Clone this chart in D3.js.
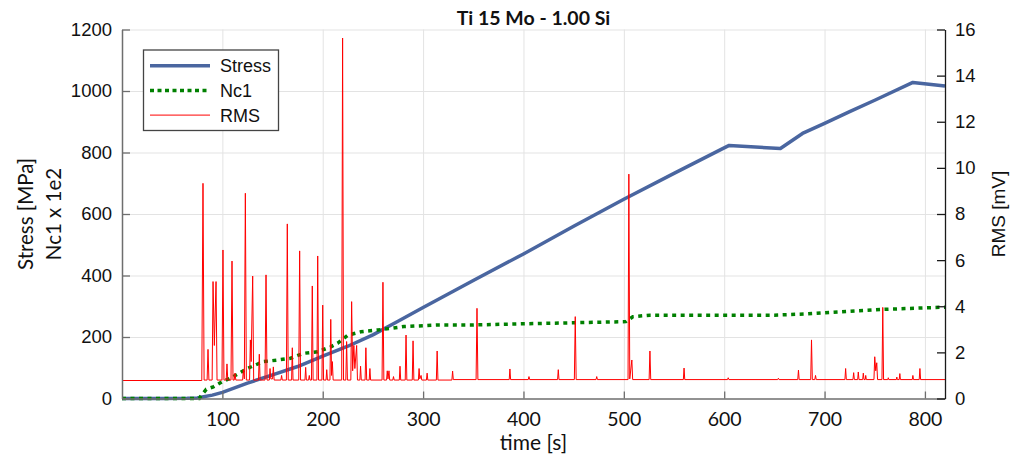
<!DOCTYPE html>
<html>
<head>
<meta charset="utf-8">
<script src="https://cdn.jsdelivr.net/npm/d3@7"></script>
<style>
    body { margin: 0; background: #fff; }
    .tickL, .tickR, .legend text { font-family: "Liberation Sans", Arial, sans-serif; fill: #111; }
    .cal { font-family: Lato, "Open Sans", sans-serif; fill: #111; }
</style>
</head>
<body>
<div id="chart"></div>
<script>
'use strict';

// time [s] / value pairs
var stress = [[0,0],[40,0],[65,0.5],[75,2],[80,5],[90,11],[100,20],[125,50],[150,77],[175,104],
    [200,138],[225,170],[250,207],[275,251],[300,296],[325,340],[350,384],[400,470],[450,560],
    [500,648],[550,732],[597,810],[605,823],[656,813],[678,862],[700,895],[725,933],[750,970],
    [788,1028],[820,1016]];

// Nc1 in units of 1e2
var nc1 = [[0,0],[77,0],[79,10],[84,30],[91,38],[100,55],[108,66],[125,98],[141,120],[155,125],
    [168,131],[181,147],[195,152],[208,168],[215,180],[225,206],[238,217],[255,223],[268,228],
    [281,234],[315,239],[348,239],[400,243],[460,247],[502,250],[509,266],[526,271],[600,271],
    [650,271],[682,275],[749,288],[760,290],[820,297]];

// RMS [mV]
var rms = [[0,0.78],[79.5,0.78],[80.7,9.33],[81.8,0.8],[84.8,0.8],[85.7,2.13],[86.6,0.8],[89.8,0.8],
    [90.7,5.07],[92,2.3],[93.7,5.07],[94.7,0.8],[99.6,0.8],[100.6,6.44],[101.6,0.8],[103.8,0.8],
    [104.6,1.5],[105.4,0.8],[108.6,0.8],[109.6,5.96],[110.6,0.8],[111.8,0.8],[112.6,1.1],[113.4,0.8],
    [120.2,0.8],[120.9,1.25],[121.9,0.85],[122.9,8.9],[123.9,0.8],[127.1,0.8],[127.9,2.54],[128.7,1.6],
    [130.2,5.31],[131.2,0.8],[136,0.8],[136.8,1.92],[137.6,0.8],[142.5,0.8],[143.5,5.36],[144.5,0.8],
    [146.8,0.8],[147.5,1.3],[148.3,0.85],[150,0.85],[150.8,1.37],[151.6,0.8],[158.3,0.8],[159,1.0],
    [159.7,0.8],[163.8,0.8],[164.7,7.57],[165.6,0.8],[169,0.8],[169.7,2.2],[170.4,0.8],[176.1,0.8],
    [177,6.4],[177.9,0.8],[182.3,0.8],[183,1.35],[183.7,0.8],[185.9,0.8],[186.6,1.0],[187.3,0.8],
    [188.8,0.8],[189.6,4.88],[190.4,0.8],[194.2,0.8],[195,6.18],[195.8,0.8],[199.2,0.8],[200,4.05],
    [200.8,0.8],[203.3,0.8],[204,1.25],[204.7,0.8],[207.2,0.8],[208,3.43],[208.8,1.0],[209.6,1.6],
    [210.4,0.8],[218.9,0.8],[219.8,15.63],[220.7,0.8],[223,0.8],[223.8,2.47],[224.6,0.8],[228,0.8],
    [228.8,4.2],[229.8,1.2],[231,2.3],[232,1.3],[233.8,2.3],[234.6,0.8],[237,0.8],[237.7,1.4],
    [238.4,0.8],[242.2,0.8],[243,2.2],[243.8,0.8],[246.3,0.8],[247,1.3],[247.7,0.8],[259.1,0.8],
    [260,5.04],[260.9,0.8],[263.6,0.8],[264.3,1.2],[265,0.85],[266,1.2],[266.7,0.8],[269.8,0.8],
    [270.5,0.95],[271.2,0.8],[276.3,0.8],[277,1.4],[277.7,0.8],[282.2,0.8],[283,2.75],[283.8,0.8],
    [289.2,0.8],[290,2.5],[290.8,0.8],[295.3,0.8],[296,1.3],[296.7,0.85],[298,1.0],[298.7,0.8],
    [303.3,0.8],[304,1.1],[304.7,0.8],[313.2,0.8],[314,2.06],[314.8,0.8],[328.7,0.8],[329.4,1.19],
    [330.1,0.82],[352.8,0.82],[353.7,3.91],[354.6,0.82],[385.8,0.82],[386.5,1.28],[387.2,0.82],
    [404.8,0.82],[405.5,0.95],[406.2,0.82],[434,0.82],[434.7,1.25],[435.4,0.82],[450.7,0.82],
    [451.6,3.55],[452.5,0.82],[472.3,0.82],[473,0.95],[473.7,0.82],[504.2,0.82],[505,9.73],
    [505.9,0.85],[508,1.67],[508.8,0.82],[525.2,0.82],[526,2.06],[526.8,0.82],[559.3,0.82],
    [560,1.32],[560.7,0.82],[603.3,0.82],[604,0.9],[604.7,0.82],[653.3,0.82],[654,0.88],[654.7,0.82],
    [673.3,0.82],[674,1.23],[674.7,0.82],[686.2,0.82],[687,2.54],[687.8,0.82],[690.3,0.82],[691,1.0],
    [691.7,0.82],[720.3,0.82],[721,1.3],[721.7,0.82],[728.3,0.82],[729,1.12],[729.7,0.82],[733,0.82],
    [733.6,1.15],[734.3,0.82],[738,0.82],[738.6,1.1],[739.3,0.82],[740.5,0.82],[741,1.0],[741.6,0.82],
    [749.2,0.82],[750,1.81],[751,1.2],[752,1.55],[752.8,0.82],[757.2,0.82],[758,3.95],[758.8,0.82],
    [763,0.82],[763.5,0.9],[764,0.82],[771.5,0.82],[772,0.93],[772.5,0.82],[774.4,0.82],[775,1.08],
    [775.6,0.82],[787.4,0.82],[788,1.0],[788.6,0.82],[794.3,0.82],[795,1.3],[795.7,0.82],[820,0.82]];

var xTicks = [100, 200, 300, 400, 500, 600, 700, 800];
var leftTicks = [0, 200, 400, 600, 800, 1000, 1200];
var rightTicks = [0, 2, 4, 6, 8, 10, 12, 14, 16];
var seriesNames = ["Stress", "Nc1", "RMS"];

var W = 1014, H = 459,
    pLeft = 122, pRight = 945, pTop = 29.5, pBottom = 398.5;

var svg = d3.select("#chart").append("svg")
    .attr("width", W)
    .attr("height", H);

var x = d3.scaleLinear().domain([0, 820]).range([pLeft, pRight]);
var yL = d3.scaleLinear().domain([0, 1200]).range([pBottom, pTop]);
var yR = d3.scaleLinear().domain([0, 16]).range([pBottom, pTop]);

// grid
svg.append("g")
    .attr("transform", "translate(0," + pBottom + ")")
    .call(d3.axisBottom(x).tickValues(xTicks).tickSize(-(pBottom - pTop)).tickFormat(""))
    .call(function(g) {
        g.select(".domain").remove();
        g.selectAll("line").attr("stroke", "#e3e3e3").attr("stroke-width", 1);
    });
svg.append("g")
    .attr("transform", "translate(" + pLeft + ",0)")
    .call(d3.axisLeft(yL).tickValues(leftTicks.slice(1)).tickSize(-(pRight - pLeft)).tickFormat(""))
    .call(function(g) {
        g.select(".domain").remove();
        g.selectAll("line").attr("stroke", "#e3e3e3").attr("stroke-width", 1);
    });

// lines
var lineL = d3.line()
    .x(function(d) { return x(d[0]); })
    .y(function(d) { return yL(d[1]); });
var lineR = d3.line()
    .x(function(d) { return x(d[0]); })
    .y(function(d) { return yR(d[1]); });

svg.append("path")
    .attr("d", lineL(stress))
    .attr("fill", "none")
    .attr("stroke", "#4a66a0")
    .attr("stroke-width", 3.5)
    .attr("stroke-linejoin", "round");

svg.append("path")
    .attr("d", lineL(nc1))
    .attr("fill", "none")
    .attr("stroke", "#008000")
    .attr("stroke-width", 3.5)
    .attr("stroke-dasharray", "4,4.5");

svg.append("path")
    .attr("d", lineR(rms))
    .attr("fill", "none")
    .attr("stroke", "#ff0000")
    .attr("stroke-width", 1);

// bottom axis
svg.append("g")
    .attr("transform", "translate(0," + pBottom + ")")
    .call(d3.axisBottom(x).tickValues(xTicks).tickSizeInner(-7).tickSizeOuter(0).tickPadding(14))
    .call(function(g) {
        g.attr("font-family", null);
        g.select(".domain").attr("stroke", "#6e6e6e").attr("stroke-width", 1.3);
        g.selectAll("line").attr("stroke", "#6e6e6e").attr("stroke-width", 1.3);
        g.selectAll("text").attr("class", "cal").style("font-size", "19.5px");
    });

// left axis
svg.append("g")
    .attr("transform", "translate(" + pLeft + ",0)")
    .call(d3.axisLeft(yL).tickValues(leftTicks).tickFormat(d3.format("d"))
        .tickSizeInner(-8).tickSizeOuter(0).tickPadding(10))
    .call(function(g) {
        g.attr("font-family", null);
        g.select(".domain").attr("stroke", "#6e6e6e").attr("stroke-width", 1.5);
        g.selectAll("line").attr("stroke", "#6e6e6e").attr("stroke-width", 1.3);
        g.selectAll("text").attr("class", "tickL").style("font-size", "18.5px");
    });

// right axis
svg.append("g")
    .attr("transform", "translate(" + pRight + ",0)")
    .call(d3.axisRight(yR).tickValues(rightTicks).tickSizeInner(-8).tickSizeOuter(0).tickPadding(10))
    .call(function(g) {
        g.attr("font-family", null);
        g.select(".domain").attr("stroke", "#1a1a1a").attr("stroke-width", 1.3);
        g.selectAll("line").attr("stroke", "#1a1a1a").attr("stroke-width", 1.3);
        g.selectAll("text").attr("class", "tickR").style("font-size", "18.5px");
    });

// title and labels
svg.append("text")
    .attr("class", "cal")
    .attr("x", (pLeft + pRight) / 2)
    .attr("y", 25)
    .attr("text-anchor", "middle")
    .style("font-size", "19.5px")
    .style("font-weight", "bold")
    .text("Ti 15 Mo - 1.00 Si");

svg.append("text")
    .attr("class", "cal")
    .attr("x", (pLeft + pRight) / 2)
    .attr("y", 450)
    .attr("text-anchor", "middle")
    .style("font-size", "21px")
    .text("time [s]");

svg.append("text")
    .attr("class", "cal")
    .attr("transform", "translate(33," + ((pTop + pBottom) / 2) + ") rotate(-90)")
    .attr("text-anchor", "middle")
    .style("font-size", "20.5px")
    .text("Stress [MPa]");

svg.append("text")
    .attr("class", "cal")
    .attr("transform", "translate(61," + ((pTop + pBottom) / 2) + ") rotate(-90)")
    .attr("text-anchor", "middle")
    .style("font-size", "20.5px")
    .text("Nc1 x 1e2");

svg.append("text")
    .attr("class", "tickR")
    .attr("transform", "translate(1005," + ((pTop + pBottom) / 2) + ") rotate(-90)")
    .attr("text-anchor", "middle")
    .style("font-size", "19px")
    .text("RMS [mV]");

// legend
var legend = svg.append("g").attr("class", "legend");
legend.append("rect")
    .attr("x", 143.5)
    .attr("y", 50)
    .attr("width", 135)
    .attr("height", 80.5)
    .attr("fill", "#fff")
    .attr("stroke", "#444")
    .attr("stroke-width", 1.3);

var legStyles = [
    {color: "#4a66a0", width: 3.5, dash: null},
    {color: "#008000", width: 3.5, dash: "4,3.5"},
    {color: "#ff0000", width: 1, dash: null}
];
seriesNames.forEach(function(name, i) {
    var yy = 65.7 + i * 24.7;
    legend.append("line")
        .attr("x1", 150).attr("x2", 210)
        .attr("y1", yy).attr("y2", yy)
        .attr("stroke", legStyles[i].color)
        .attr("stroke-width", legStyles[i].width)
        .attr("stroke-dasharray", legStyles[i].dash);
    legend.append("text")
        .attr("x", 220)
        .attr("y", yy + 6.6)
        .style("font-size", "18px")
        .text(name);
});
</script>
</body>
</html>
